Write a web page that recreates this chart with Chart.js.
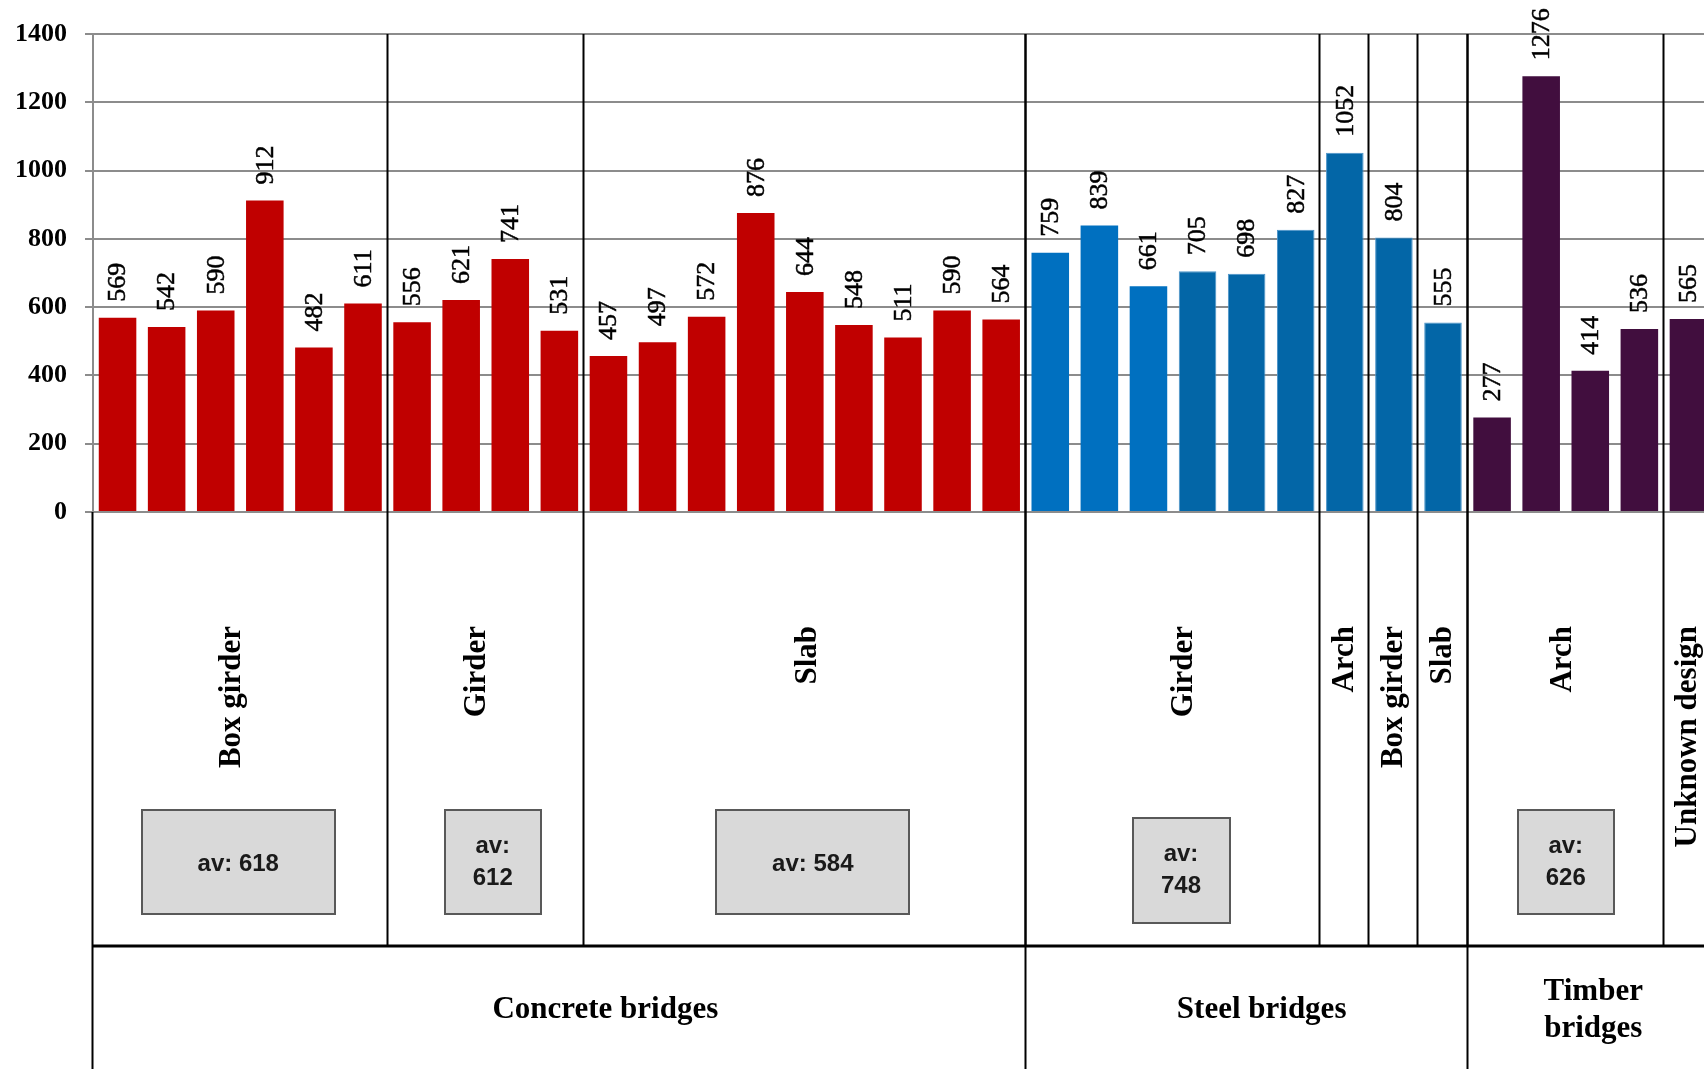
<!DOCTYPE html>
<html>
<head>
<meta charset="utf-8">
<title>Bridge costs by material and design</title>
<script src="https://cdn.jsdelivr.net/npm/chart.js@4.4.1/dist/chart.umd.min.js"></script>
<style>
    html, body { margin: 0; padding: 0; background: #fff; overflow: hidden; }
    #costChart { display: block; }
</style>
</head>
<body>
<canvas id="costChart" width="1720" height="1069"></canvas>
<script>
// Bridge material groups (lower row) and how many bars each spans
const materials = ['Concrete bridges', 'Steel bridges', ['Timber', 'bridges']];
const materialSizes = [19, 9, 5];

// Design types (upper row) and how many bars each spans
const designs = ['Box girder', 'Girder', 'Slab', 'Girder', 'Arch', 'Box girder', 'Slab', 'Arch', 'Unknown design'];
const designSizes = [6, 4, 9, 6, 1, 1, 1, 4, 1];

// One value per bridge, left to right
const costValues = [
    569, 542, 590, 912, 482, 611,
    556, 621, 741, 531,
    457, 497, 572, 876, 644, 548, 511, 590, 564,
    759, 839, 661, 705, 698, 827,
    1052,
    804,
    555,
    277, 1276, 414, 536,
    565
];

const yMin = 0;
const yMax = 1400;
const yStep = 200;

const serif = "'Liberation Serif', 'Times New Roman', serif";

// Expand designs into one label per bar
const barLabels = [];
designs.forEach((d, i) => {
    for (let k = 0; k < designSizes[i]; k++) barLabels.push(d);
});

// Material index for every bar
const barMaterial = [];
materialSizes.forEach((n, m) => {
    for (let k = 0; k < n; k++) barMaterial.push(m);
});

// Colours: concrete red, steel blue (first three a lighter shade), timber purple
const barColours = barMaterial.map((m, i) => {
    if (m === 0) return '#c00000';
    if (m === 1) return (i - materialSizes[0]) < 3 ? '#0070c0' : '#0366a7';
    return '#410e3e';
});
const barBorderWidths = barMaterial.map((m, i) => (m === 1 && (i - materialSizes[0]) >= 3) ? 1 : 0);

// Average boxes for designs with more than one bridge
// dx nudges the box off the group centre, wrap puts the number on its own line
const avgBoxStyle = {
    0: { w: 193, h: 104, cy: 862, dx: -2, wrap: false },
    1: { w: 96, h: 104, cy: 862, dx: 7, wrap: true },
    2: { w: 193, h: 104, cy: 862, dx: 8, wrap: false },
    3: { w: 97, h: 105, cy: 870, dx: 8, wrap: true },
    7: { w: 96, h: 104, cy: 862, dx: 0, wrap: true }
};
const designLabelShift = [-8, -9, 3, 11, 0, 0, 0, -3, 0];
const groupLabelShift = [46, 15, 3];

function designAverage(idx) {
    let start = 0;
    for (let i = 0; i < idx; i++) start += designSizes[i];
    const vals = costValues.slice(start, start + designSizes[idx]);
    return Math.round(vals.reduce((a, b) => a + b, 0) / vals.length);
}

// Rotated value labels above each bar
const valueLabels = {
    id: 'valueLabels',
    afterDatasetsDraw(chart) {
        const ctx = chart.ctx;
        const meta = chart.getDatasetMeta(0);
        ctx.save();
        ctx.fillStyle = '#000';
        ctx.strokeStyle = '#000';
        ctx.lineWidth = 0.5;
        ctx.font = '26px ' + serif;
        ctx.textAlign = 'left';
        ctx.textBaseline = 'middle';
        meta.data.forEach((bar, i) => {
            ctx.save();
            ctx.translate(bar.x, bar.y - 16);
            ctx.rotate(-Math.PI / 2);
            ctx.fillText(String(costValues[i]), 0, 1);
            ctx.strokeText(String(costValues[i]), 0, 1);
            ctx.restore();
        });
        ctx.restore();
    }
};

// Two-row category table under the plot, with dividers and average boxes
const categoryTable = {
    id: 'categoryTable',
    afterDraw(chart) {
        const ctx = chart.ctx;
        const area = chart.chartArea;
        const n = costValues.length;
        const step = (area.right - area.left) / n;
        const edge = i => area.left + i * step;
        const rowSplit = 946;
        const bottom = chart.height;

        ctx.save();
        ctx.strokeStyle = '#000';

        // design dividers through the plot and the upper row
        ctx.lineWidth = 2;
        let pos = 0;
        designSizes.forEach(size => {
            pos += size;
            const x = Math.round(edge(pos)) - 0.5;
            ctx.beginPath();
            ctx.moveTo(x, area.top);
            ctx.lineTo(x, rowSplit);
            ctx.stroke();
        });

        // material dividers run down through the lower row
        pos = 0;
        [0].concat(materialSizes).forEach(size => {
            pos += size;
            const x = Math.round(edge(pos)) - 0.5;
            ctx.beginPath();
            ctx.moveTo(x, pos === 0 ? area.bottom : area.top);
            ctx.lineTo(x, bottom);
            ctx.stroke();
        });

        ctx.lineWidth = 3;
        ctx.beginPath();
        ctx.moveTo(area.left, rowSplit);
        ctx.lineTo(area.right, rowSplit);
        ctx.stroke();

        // design names, rotated
        ctx.fillStyle = '#000';
        ctx.font = 'bold 31px ' + serif;
        ctx.textAlign = 'right';
        ctx.textBaseline = 'middle';
        pos = 0;
        designs.forEach((name, i) => {
            const cx = (edge(pos) + edge(pos + designSizes[i])) / 2 + designLabelShift[i];
            ctx.save();
            ctx.translate(cx, 626);
            ctx.rotate(-Math.PI / 2);
            ctx.fillText(name, 0, 0);
            ctx.restore();
            pos += designSizes[i];
        });

        // material names
        ctx.textAlign = 'center';
        pos = 0;
        materials.forEach((name, m) => {
            const cx = (edge(pos) + edge(pos + materialSizes[m])) / 2 + groupLabelShift[m];
            const lines = Array.isArray(name) ? name : [name];
            const lh = 37;
            const y0 = 1010 - (lines.length - 1) * lh / 2;
            lines.forEach((ln, k) => ctx.fillText(ln, cx, y0 + k * lh));
            pos += materialSizes[m];
        });

        // average boxes
        pos = 0;
        designs.forEach((name, i) => {
            const style = avgBoxStyle[i];
            if (designSizes[i] > 1 && style) {
                const cx = (edge(pos) + edge(pos + designSizes[i])) / 2 + style.dx;
                const x = Math.round(cx - style.w / 2);
                const y = Math.round(style.cy - style.h / 2);
                ctx.fillStyle = '#d9d9d9';
                ctx.fillRect(x, y, style.w, style.h);
                ctx.strokeStyle = '#595959';
                ctx.lineWidth = 2;
                ctx.strokeRect(x, y, style.w, style.h);

                const avg = designAverage(i);
                ctx.fillStyle = '#1a1a1a';
                ctx.font = 'bold 24px "Liberation Sans", Arial, sans-serif';
                ctx.textAlign = 'center';
                ctx.textBaseline = 'middle';
                if (style.wrap) {
                    ctx.fillText('av:', cx, style.cy - 16);
                    ctx.fillText(String(avg), cx, style.cy + 16);
                } else {
                    ctx.fillText('av: ' + avg, cx, style.cy + 2);
                }
            }
            pos += designSizes[i];
        });

        ctx.restore();
    }
};

const costChart = new Chart(document.getElementById('costChart').getContext('2d'), {
    type: 'bar',
    data: {
        labels: barLabels,
        datasets: [{
            data: costValues,
            backgroundColor: barColours,
            borderColor: '#4a93c9',
            borderWidth: barBorderWidths,
            borderSkipped: 'bottom',
            barPercentage: 0.765,
            categoryPercentage: 1.0
        }]
    },
    options: {
        responsive: false,
        animation: false,
        layout: {
            padding: { top: 34, left: 15, right: 7, bottom: 557 }
        },
        plugins: {
            legend: { display: false },
            tooltip: { enabled: false }
        },
        scales: {
            x: { display: false },
            y: {
                min: yMin,
                max: yMax,
                ticks: {
                    stepSize: yStep,
                    padding: 18,
                    color: '#000',
                    font: { family: serif, size: 26, weight: 'bold' },
                    callback: value => String(value)
                },
                grid: { color: '#8c8c8c', lineWidth: 2, tickLength: 8 },
                border: { color: '#8c8c8c', width: 2 },
                afterFit(scale) { scale.width = 78; }
            }
        }
    },
    plugins: [valueLabels, categoryTable]
});
</script>
</body>
</html>
